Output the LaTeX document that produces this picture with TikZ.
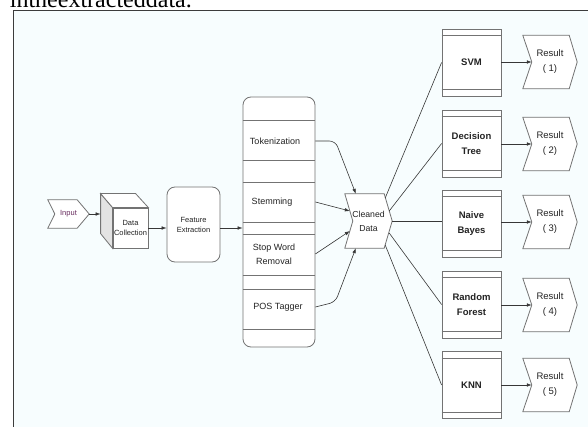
\documentclass[tikz,border=0pt]{standalone}
\usepackage{fontspec}
\setsansfont{Liberation Sans}
\newfontfamily\captionserif{Liberation Serif}
\usetikzlibrary{arrows.meta, calc, positioning}
\definecolor{paneBg}{RGB}{247,253,254}
\definecolor{frameGray}{RGB}{60,60,60}
\definecolor{edgeGray}{RGB}{115,115,115}
\definecolor{lineDark}{RGB}{55,55,55}
\definecolor{txtDark}{RGB}{35,35,35}
\definecolor{inputTxt}{RGB}{105,45,95}

\pgfdeclarelayer{pane}
\pgfdeclarelayer{back}
\pgfsetlayers{pane,back,main}

\tikzset{
  flowbox/.style={draw=edgeGray, fill=white, line width=0.8pt, inner sep=0pt, text=txtDark, align=center},
  smalltxt/.style={font=\sffamily\fontsize{7.5}{10}\selectfont},
  prepitem/.style={inner sep=0pt, text=txtDark, align=center, font=\sffamily\fontsize{9}{14}\selectfont},
  clsbox/.style={flowbox, minimum width=59pt, minimum height=67pt, font=\sffamily\bfseries\fontsize{9.5}{15}\selectfont},
  chevbox/.style={inner sep=0pt, text=txtDark, align=center},
  resbox/.style={chevbox, minimum width=54pt, minimum height=53pt, font=\sffamily\fontsize{9.5}{15}\selectfont},
  link/.style={draw=lineDark, line width=0.6pt},
  flow/.style={link, ->},
}

% outline of an arrow-like box, drawn behind the node text
\newcommand{\drawchevron}[3]{%
  \begin{pgfonlayer}{back}
    \draw[edgeGray, fill=white, line width=0.8pt]
      (#1.north west) -- ([xshift=-#2]#1.north east) -- (#1.east)
      -- ([xshift=-#2]#1.south east) -- (#1.south west)
      -- ([xshift=#3]#1.west) -- cycle;
  \end{pgfonlayer}}

\begin{document}
\begin{tikzpicture}[x=1pt, y=-1pt, >={Latex[length=5pt,width=3.6pt]}, font=\sffamily]
  \useasboundingbox (0,0) rectangle (588,427);
  \begin{pgfonlayer}{pane}
    \fill[paneBg] (13,11) rectangle (588,427);
  \end{pgfonlayer}
  \draw[frameGray, line width=1pt] (13,427) -- (13,11) -- (588,11);
  \node[anchor=base east, inner sep=0pt, font=\captionserif\fontsize{24}{24}\selectfont] (prevline) at (192,7.5) {intheextracteddata.};

  % input and collection
  \node[chevbox, smalltxt, minimum width=41pt, minimum height=28pt, text=inputTxt] (input) at (68.5,214) {Input};
  \drawchevron{input}{12pt}{7pt}

  \node[flowbox, smalltxt, minimum width=35pt, minimum height=40pt] (coll) at (130.5,228) {Data\\Collection};
  \draw[edgeGray, fill=gray!22, line width=0.8pt] (coll.north west) -- ++(-12,-14) -- ++(0,40) -- (coll.south west) -- cycle;
  \draw[edgeGray, fill=white, line width=0.8pt] (coll.north west) -- ++(-12,-14) -- ++(35,0) -- (coll.north east) -- cycle;
  \coordinate (collbk) at ([xshift=-12pt,yshift=14pt]coll.south west);
  \draw[flow] (input.east) -- (input.east -| collbk);

  \node[flowbox, smalltxt, rounded corners=8pt, minimum width=53pt, minimum height=75pt] (feat) at (193.5,224.5) {Feature\\Extraction};
  \draw[flow] (coll.east) -- (coll.east -| feat.west);

  % preprocessing column
  \node[flowbox, rounded corners=8pt, minimum width=72pt, minimum height=250pt] (prep) at (279,222) {};
  \foreach \yy in {120,160,182,222,234,275,289,329}
    \draw[edgeGray, line width=0.8pt] (prep.west |- 0,\yy) -- (prep.east |- 0,\yy);
  \draw[flow] (feat.east |- coll.east) -- (prep.west |- coll.east);

  \node[prepitem] (tok) at (275,141) {Tokenization};
  \node[prepitem] (stem) at (272,202) {Stemming};
  \node[prepitem] (stop) at (274,254) {Stop Word\\Removal};
  \node[prepitem] (pos) at (278,307) {POS Tagger};

  \node[chevbox, minimum width=47pt, minimum height=54pt, font=\sffamily\fontsize{8.7}{14}\selectfont] (clean) at (368.5,221) {Cleaned\\Data};
  \drawchevron{clean}{8pt}{8pt}

  \draw[flow, rounded corners=6pt] (prep.east |- tok) -- ++(20,0) -- ([xshift=11pt]clean.north west);
  \draw[flow] (prep.east |- stem) -- ([xshift=5pt,yshift=10pt]clean.west);
  \draw[flow] (prep.east |- stop) -- ([xshift=5pt,yshift=-10pt]clean.west);
  \draw[flow, rounded corners=6pt] (prep.east |- pos) -- ++(20,-5) -- ([xshift=11pt]clean.south west);

  % classifiers
  \node[clsbox] (svm) at (471.5,62.5) {SVM};
  \node[clsbox] (dt) at (471.5,143.5) {Decision\\Tree};
  \node[clsbox] (nb) at (471.5,223.5) {Naive\\Bayes};
  \node[clsbox] (rf) at (471.5,304.5) {Random\\Forest};
  \node[clsbox] (knn) at (471.5,385) {KNN};
  \foreach \cls in {svm,dt,nb,rf,knn} {
    \draw[edgeGray, line width=0.8pt] ([yshift=-7pt]\cls.north west) -- ([yshift=-7pt]\cls.north east);
    \draw[edgeGray, line width=0.8pt] ([yshift=7pt]\cls.south west) -- ([yshift=7pt]\cls.south east);
  }

  \draw[link] ([xshift=-7pt,yshift=23pt]clean.east) -- (svm.west);
  \draw[link] ([xshift=-3pt,yshift=10pt]clean.east) -- (dt.west);
  \draw[link] (clean.east) -- (clean.east -| nb.west);
  \draw[link] ([xshift=-3pt,yshift=-12pt]clean.east) -- (rf.west);
  \draw[link] ([xshift=-7pt,yshift=-24pt]clean.east) -- (knn.west);

  % results
  \foreach \cls/\yy/\k in {svm/62/1, dt/144/2, nb/222/3, rf/305/4, knn/385/5} {
    \node[resbox] (res\k) at (550,\yy) {Result\\( \k)};
    \drawchevron{res\k}{8pt}{9pt}
    \draw[flow] (res\k.west -| \cls.east) -- ([xshift=9pt]res\k.west);
  }
\end{tikzpicture}
\end{document}
